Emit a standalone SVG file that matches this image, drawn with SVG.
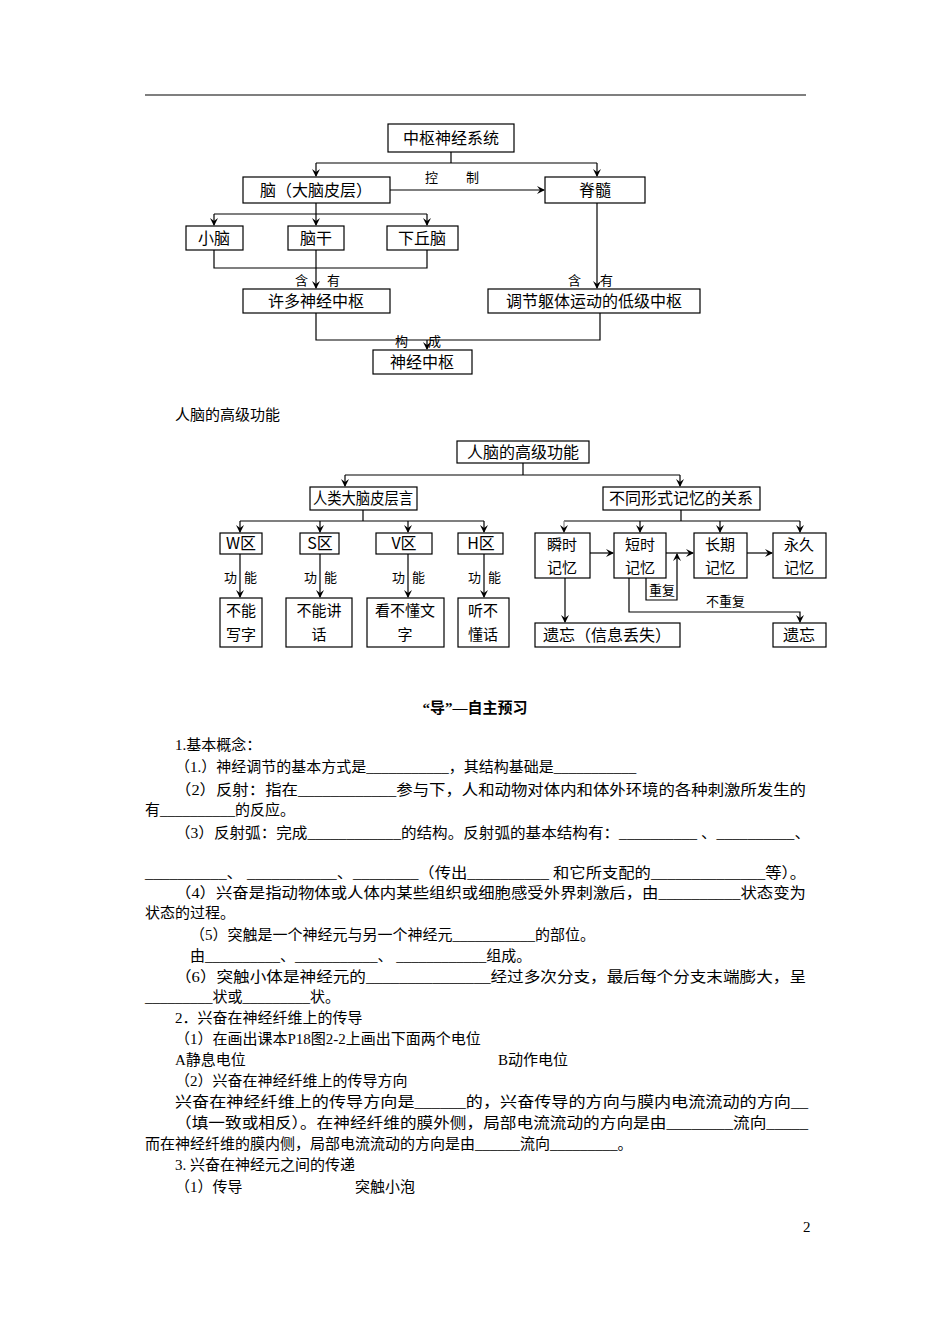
<svg xmlns="http://www.w3.org/2000/svg" width="950" height="1344" viewBox="0 0 950 1344">
<style>
text{font-family:"Liberation Serif","Noto Sans CJK SC",serif;font-size:15px;fill:#000}
.n rect{fill:#fff;stroke:#000;stroke-width:1.2}
.n text{font-family:"Noto Sans CJK SC",sans-serif;font-size:16px;text-anchor:middle}
.n text.s{font-size:15px}
.c path{fill:none;stroke:#000;stroke-width:1.2}
.lb{font-family:"Noto Sans CJK SC",sans-serif;font-size:13px}
</style>
<defs><marker id="a" markerWidth="8" markerHeight="8" refX="7" refY="4" orient="auto" markerUnits="userSpaceOnUse"><path d="M0,0 L8,4 L0,8 L3,4z" fill="#000"/></marker></defs>
<rect width="950" height="1344" fill="#fff"/>
<path d="M145,95 H806" stroke="#000" stroke-width="1.2"/>
<g class="c">
<path d="M451,152 V163 M316,163 H597"/>
<path d="M316,163 V176" marker-end="url(#a)"/><path d="M597,163 V176" marker-end="url(#a)"/>
<path d="M390,190 H544" marker-end="url(#a)"/>
<path d="M316,203 V214 M214,214 H427"/>
<path d="M214,214 V225" marker-end="url(#a)"/><path d="M316,214 V225" marker-end="url(#a)"/><path d="M427,214 V225" marker-end="url(#a)"/>
<path d="M214,250 V268 H427 V250"/>
<path d="M316,250 V288" marker-end="url(#a)"/>
<path d="M597,203 V288" marker-end="url(#a)"/>
<path d="M316,313 V340 H600 V313"/>
<path d="M427,340 V349" marker-end="url(#a)"/>
<path d="M523,463 V475 M345,475 H680"/>
<path d="M345,475 V486" marker-end="url(#a)"/><path d="M680,475 V486" marker-end="url(#a)"/>
<path d="M363,510 V521 M240,521 H484"/>
<path d="M240,521 V532" marker-end="url(#a)"/><path d="M320,521 V532" marker-end="url(#a)"/><path d="M408,521 V532" marker-end="url(#a)"/><path d="M484,521 V532" marker-end="url(#a)"/>
<path d="M240,554 V597" marker-end="url(#a)"/><path d="M320,554 V597" marker-end="url(#a)"/><path d="M408,554 V597" marker-end="url(#a)"/><path d="M484,554 V597" marker-end="url(#a)"/>
<path d="M681,510 V521 M564,521 H800"/>
<path d="M564,521 V532" marker-end="url(#a)" style="stroke:#888"/><path d="M640,521 V532" marker-end="url(#a)"/><path d="M720,521 V532" marker-end="url(#a)"/><path d="M800,521 V532" marker-end="url(#a)"/>
<path d="M590,553 H613" marker-end="url(#a)"/><path d="M666,553 H693" marker-end="url(#a)"/><path d="M747,553 H772" marker-end="url(#a)"/>
<path d="M646,578 V600 H677 V554" marker-end="url(#a)"/>
<path d="M629,578 V612 H800 V622" marker-end="url(#a)"/>
<path d="M565,578 V622" marker-end="url(#a)"/>
</g>
<text class="lb" x="425" y="182">控</text><text class="lb" x="466" y="182">制</text>
<text class="lb" x="295" y="285">含</text><text class="lb" x="327" y="285">有</text>
<text class="lb" x="568" y="285">含</text><text class="lb" x="600" y="285">有</text>
<text class="lb" x="395" y="346">构</text><text class="lb" x="428" y="346">成</text>
<text class="lb" x="224" y="582">功</text><text class="lb" x="244" y="582">能</text>
<text class="lb" x="304" y="582">功</text><text class="lb" x="324" y="582">能</text>
<text class="lb" x="392" y="582">功</text><text class="lb" x="412" y="582">能</text>
<text class="lb" x="468" y="582">功</text><text class="lb" x="488" y="582">能</text>
<text class="lb" x="649" y="595">重复</text><text class="lb" x="706" y="606">不重复</text>
<g class="n" id="n1"><rect x="388" y="124" width="126" height="28"/><text x="451" y="144">中枢神经系统</text></g>
<g class="n" id="n2"><rect x="243" y="177" width="147" height="26"/><text x="316" y="196">脑（大脑皮层）</text></g>
<g class="n" id="n3"><rect x="545" y="177" width="100" height="26"/><text x="595" y="196">脊髓</text></g>
<g class="n" id="n4"><rect x="186" y="226" width="57" height="24"/><text x="214" y="244">小脑</text></g>
<g class="n" id="n5"><rect x="288" y="226" width="56" height="24"/><text x="316" y="244">脑干</text></g>
<g class="n" id="n6"><rect x="387" y="226" width="71" height="24"/><text x="422" y="244">下丘脑</text></g>
<g class="n" id="n7"><rect x="243" y="289" width="147" height="24"/><text x="316" y="307">许多神经中枢</text></g>
<g class="n" id="n8"><rect x="488" y="289" width="212" height="24"/><text x="594" y="307">调节躯体运动的低级中枢</text></g>
<g class="n" id="n9"><rect x="373" y="350" width="99" height="24"/><text x="422" y="368">神经中枢</text></g>
<g class="n" id="m1"><rect x="457" y="441" width="132" height="22"/><text x="523" y="458">人脑的高级功能</text></g>
<g class="n" id="m2"><rect x="310" y="487" width="107" height="23"/><text x="363" y="504" textLength="100" lengthAdjust="spacingAndGlyphs">人类大脑皮层言</text></g>
<g class="n" id="m3"><rect x="603" y="487" width="157" height="23"/><text x="681" y="504">不同形式记忆的关系</text></g>
<g class="n" id="w"><rect x="220" y="533" width="42" height="21"/><text x="241" y="549">W区</text></g>
<g class="n" id="s"><rect x="300" y="533" width="39" height="21"/><text x="320" y="549">S区</text></g>
<g class="n" id="v"><rect x="376" y="533" width="56" height="21"/><text x="404" y="549">V区</text></g>
<g class="n" id="h"><rect x="458" y="533" width="45" height="21"/><text x="481" y="549">H区</text></g>
<g class="n" id="w2"><rect x="220" y="598" width="42" height="49"/><text class="s" x="241" y="616">不能</text><text class="s" x="241" y="640">写字</text></g>
<g class="n" id="s2"><rect x="286" y="598" width="66" height="49"/><text class="s" x="319" y="616">不能讲</text><text class="s" x="319" y="640">话</text></g>
<g class="n" id="v2"><rect x="367" y="598" width="77" height="49"/><text class="s" x="405" y="616">看不懂文</text><text class="s" x="405" y="640">字</text></g>
<g class="n" id="h2"><rect x="458" y="598" width="51" height="49"/><text class="s" x="483" y="616">听不</text><text class="s" x="483" y="640">懂话</text></g>
<g class="n" id="k1"><rect x="535" y="533" width="55" height="45"/><text class="s" x="562" y="550">瞬时</text><text class="s" x="562" y="573">记忆</text></g>
<g class="n" id="k2"><rect x="614" y="533" width="52" height="45"/><text class="s" x="640" y="550">短时</text><text class="s" x="640" y="573">记忆</text></g>
<g class="n" id="k3"><rect x="694" y="533" width="53" height="45"/><text class="s" x="720" y="550">长期</text><text class="s" x="720" y="573">记忆</text></g>
<g class="n" id="k4"><rect x="773" y="533" width="53" height="45"/><text class="s" x="799" y="550">永久</text><text class="s" x="799" y="573">记忆</text></g>
<g class="n" id="f1"><rect x="535" y="623" width="145" height="24"/><text x="607" y="641">遗忘（信息丢失）</text></g>
<g class="n" id="f2"><rect x="773" y="623" width="53" height="24"/><text x="799" y="641">遗忘</text></g>
<text x="175" y="420">人脑的高级功能</text>
<text x="475" y="713" text-anchor="middle" font-weight="bold">“导”—自主预习</text>
<text x="175" y="750">1.基本概念：</text>
<text x="175" y="772">（1.）神经调节的基本方式是___________，其结构基础是___________</text>
<text x="175" y="795" textLength="631" lengthAdjust="spacingAndGlyphs">（2）反射：指在____________参与下，人和动物对体内和体外环境的各种刺激所发生的</text>
<text x="145" y="815">有__________的反应。</text>
<text x="175" y="838" textLength="635" lengthAdjust="spacingAndGlyphs">（3）反射弧：完成____________的结构。反射弧的基本结构有：__________ 、__________、</text>
<text x="145" y="878" textLength="661" lengthAdjust="spacingAndGlyphs">__________、 ___________、________（传出__________ 和它所支配的______________等）。</text>
<text x="175" y="898" textLength="631" lengthAdjust="spacingAndGlyphs">（4）兴奋是指动物体或人体内某些组织或细胞感受外界刺激后，由__________状态变为</text>
<text x="145" y="918">状态的过程。</text>
<text x="190" y="940">（5）突触是一个神经元与另一个神经元___________的部位。</text>
<text x="190" y="961">由__________、___________、 ____________组成。</text>
<text x="175" y="982" textLength="631" lengthAdjust="spacingAndGlyphs">（6）突触小体是神经元的_______________经过多次分支，最后每个分支末端膨大，呈</text>
<text x="145" y="1002">_________状或_________状。</text>
<text x="175" y="1023">2．兴奋在神经纤维上的传导</text>
<text x="175" y="1044">（1）在画出课本P18图2-2上画出下面两个电位</text>
<text x="175" y="1065">A静息电位</text><text x="498" y="1065">B动作电位</text>
<text x="175" y="1086">（2）兴奋在神经纤维上的传导方向</text>
<text x="175" y="1107" textLength="633" lengthAdjust="spacingAndGlyphs">兴奋在神经纤维上的传导方向是______的，兴奋传导的方向与膜内电流流动的方向__</text>
<text x="175" y="1128" textLength="633" lengthAdjust="spacingAndGlyphs">（填一致或相反）。在神经纤维的膜外侧，局部电流流动的方向是由________流向_____</text>
<text x="145" y="1149">而在神经纤维的膜内侧，局部电流流动的方向是由______流向_________。</text>
<text x="175" y="1170">3. 兴奋在神经元之间的传递</text>
<text x="175" y="1192">（1）传导</text><text x="355" y="1192">突触小泡</text>
<text x="803" y="1232" font-size="13">2</text>
</svg>
